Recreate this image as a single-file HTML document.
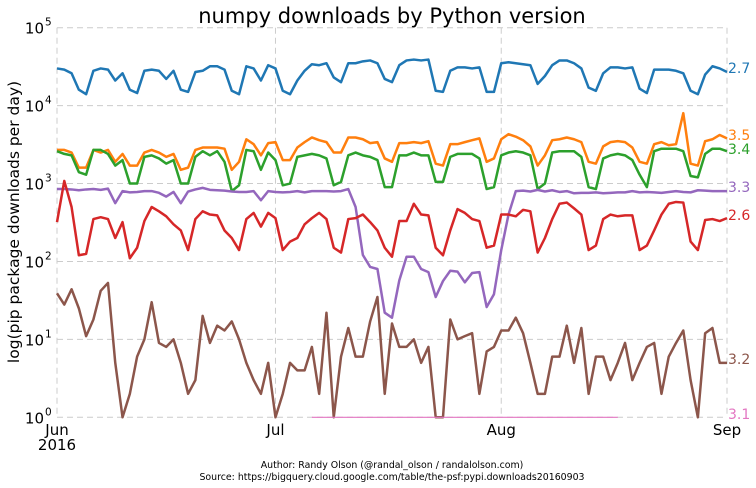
<!DOCTYPE html>
<html><head><meta charset="utf-8"><style>
body{margin:0;background:#fff;}
svg{display:block;font-family:"DejaVu Sans","Liberation Sans",sans-serif;}
</style></head><body>
<svg id="chart" width="756" height="488" viewBox="0 0 756 488" xmlns="http://www.w3.org/2000/svg">
<text x="392" y="23" font-size="21" text-anchor="middle" fill="#000">numpy downloads by Python version</text>
<text transform="translate(19,222) rotate(-90)" font-size="15.5" text-anchor="middle" fill="#000">log(pip package downloads per day)</text>
<text x="392" y="468" font-size="9.4" text-anchor="middle">Author: Randy Olson (@randal_olson / randalolson.com)</text>
<text x="392" y="480" font-size="9.4" text-anchor="middle">Source: https://bigquery.cloud.google.com/table/the-psf:pypi.downloads20160903</text>
<g id="grid"></g>
<g id="series"></g>
<g id="labels"></g>
</svg>
<script>
const monthLabels = ["Jun","Jul","Aug","Sep"];
const monthDays = [0,30,61,92];
const yTickExps = [0,1,2,3,4,5];
const seriesNames = ["2.7","3.5","3.4","3.3","2.6","3.2","3.1"];
const seriesColors = ["#1f77b4","#ff7f0e","#2ca02c","#9467bd","#d62728","#8c564b","#e377c2"];
const py27 = [30000,29000,26000,16000,14000,
28000,30000,29000,21000,26000,16000,14500,
28000,29000,28000,22000,28000,16000,15000,
27000,28000,32000,32000,29000,15500,14000,
32000,30000,21000,33000,30000,15500,14000,
21000,28000,34000,33000,35000,23000,20000,
35000,35000,37000,38000,35000,22000,20000,
33000,38000,39000,38000,39000,15500,15000,
28000,31000,31000,30000,31000,15000,15000,
35000,36000,35000,34000,33000,19000,24000,
33000,38000,38000,35000,30000,17000,15500,
26000,31000,31000,30000,31000,16500,14500,
29000,29000,29000,28000,26000,15500,14000,
25000,32000,30000,27000];
const py35 = [2700,2700,2500,1600,1600,
2700,2500,2700,1900,2400,1700,1700,
2500,2700,2500,2200,2400,1500,1600,
2700,2900,2900,2900,2800,1500,1900,
3700,3200,2300,3300,3400,2000,2000,
2900,3400,3900,3600,3400,2500,2500,
3900,3900,3700,3300,3400,2100,1900,
3300,3300,3400,3300,3500,1800,1700,
3200,3200,3400,3600,3800,1900,2100,
3700,4300,4000,3600,3000,1700,2300,
3600,3700,3900,3700,3400,1900,1800,
3000,3400,3500,3400,2900,1900,1800,
3200,3400,3100,3200,8000,1800,1700,
3500,3700,4200,3800];
const py34 = [2600,2400,2300,1400,1300,
2700,2700,2400,1700,2000,1000,1000,
2200,2300,2100,1800,2000,1000,1000,
2200,2600,2300,2600,1900,800,950,
2700,2600,1500,2500,2000,950,1000,
2200,2300,2400,2300,2100,950,1050,
2300,2500,2300,2200,2000,900,900,
2300,2300,2500,2300,2300,1050,1050,
2200,2400,2400,2400,2100,850,900,
2300,2500,2600,2500,2300,850,1000,
2500,2600,2600,2600,2200,900,850,
2100,2300,2400,2300,2000,1300,900,
2600,2800,2800,2800,2600,1250,1200,
2400,2800,2800,2600];
const py33 = [850,850,840,820,840,850,830,860,560,800,770,780,800,800,760,680,780,560,790,840,
880,830,820,810,790,780,780,800,610,800,780,770,780,800,770,800,800,800,790,800,
850,500,121,85,80,22,19,57,115,115,80,73,35,56,76,74,54,71,73,26,
38,140,400,800,810,790,830,790,820,780,800,750,760,760,770,750,760,770,770,800,
770,780,770,760,780,800,780,770,820,810,800,800,800];
const py26 = [320,1080,500,120,125,350,370,350,200,320,110,150,330,500,440,380,300,250,140,350,
440,400,390,250,200,140,350,420,280,420,360,140,180,200,300,360,420,350,150,130,
350,360,400,320,250,150,115,330,330,550,400,390,150,120,250,470,420,350,330,150,
160,400,400,380,460,440,130,200,350,550,570,480,400,140,160,350,400,380,390,390,
140,160,250,400,550,580,570,180,140,340,350,330,360];
const py32 = [39,28,44,25,11,18,42,53,5,1,2,6,10,30,9,8,10,5,2,3,
20,9,15,13,17,10,5,3,2,5,1,2,5,4,4,8,2,22,1,6,
14,6,6,17,35,2,16,8,8,10,5,8,1,1,18,10,11,12,2,7,
8,13,13,19,12,5,2,2,6,6,15,5,14,2,6,6,3,5,9,3,
5,8,9,2,6,9,13,3,1,12,14,5,5];
const py31 = [];
for (let i=0;i<93;i++) py31.push(null);
const py31Start = 35, py31End = 77, py31Value = 1;
for (let i=py31Start;i<=py31End;i++) py31[i]=py31Value;
const allSeries = [py27,py35,py34,py33,py26,py32,py31];

const X0=57, X1=727, YTOP=27.7, YBOT=417.3;
const xScale = d => X0 + (X1-X0)*d/92;
const yScale = v => YBOT - (YBOT-YTOP)*Math.log10(v)/5;
const NS="http://www.w3.org/2000/svg";
function mk(tag, parent){const e=document.createElementNS(NS,tag);parent.appendChild(e);return e;}
const grid=document.getElementById('grid'), ser=document.getElementById('series'), lab=document.getElementById('labels');

yTickExps.forEach(p=>{
  const y=yScale(Math.pow(10,p));
  const l=mk('line',grid);
  
  
  l.setAttribute('x1',X0);l.setAttribute('x2',X1);l.setAttribute('y1',y);l.setAttribute('y2',y);
  l.setAttribute('stroke','#ccc');l.setAttribute('stroke-dasharray','6,4');
  const t=mk('text',grid);
  
  
  t.setAttribute('x',44);t.setAttribute('y',y+6);t.setAttribute('font-size','15');t.setAttribute('text-anchor','end');
  t.textContent='10';
  const s=mk('text',grid);
  
  
  s.setAttribute('x',45);s.setAttribute('y',y-2);s.setAttribute('font-size','10.5');
  s.textContent=String(p);
});
monthLabels.forEach((m,i)=>{
  const x=xScale(monthDays[i]);
  const l=mk('line',grid);
  
  
  l.setAttribute('x1',x);l.setAttribute('x2',x);l.setAttribute('y1',YTOP);l.setAttribute('y2',YBOT);
  l.setAttribute('stroke','#ccc');l.setAttribute('stroke-dasharray','6,4');
  const t=mk('text',grid);
  
  
  t.setAttribute('x',x);t.setAttribute('y',435);t.setAttribute('font-size','15');t.setAttribute('text-anchor','middle');
  t.textContent=m;
});
{const t=mk('text',grid);


t.setAttribute('x',57);t.setAttribute('y',450);t.setAttribute('font-size','15');t.setAttribute('text-anchor','middle');
t.textContent='2016';}

const labelY = [68,135,149,187,215,359,414];
allSeries.forEach((data,si)=>{
  let d='', pen=false;
  data.forEach((v,i)=>{
    if(v==null||v<=0){pen=false;return;}
    d+=(pen?'L':'M')+xScale(i).toFixed(2)+','+yScale(v).toFixed(2);
    pen=true;
  });
  const p=mk('path',ser);
  
  
  p.setAttribute('d',d);p.setAttribute('fill','none');p.setAttribute('stroke',seriesColors[si]);
  p.setAttribute('stroke-width',si===6?'1.2':'2.5');p.setAttribute('stroke-linejoin','round');
  const t=mk('text',lab);
  
  
  t.setAttribute('x',728);t.setAttribute('y',labelY[si]+5);t.setAttribute('font-size','14');t.setAttribute('fill',seriesColors[si]);
  t.textContent=seriesNames[si];
});
</script>
</body></html>
